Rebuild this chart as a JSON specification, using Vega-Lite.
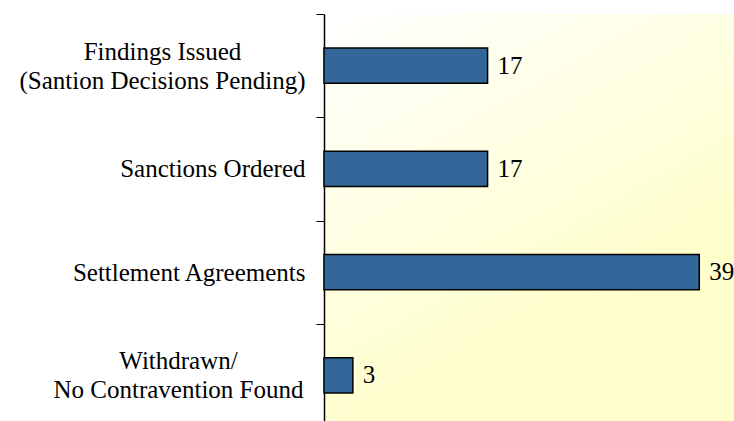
{
  "$schema": "https://vega.github.io/schema/vega-lite/v6.json",
  "autosize": "none",
  "width": 433,
  "height": 413,
  "padding": {"left": 324, "top": 14, "right": 0, "bottom": 0},
  "background": "white",
  "config": {
    "font": "Liberation Serif, serif",
    "view": {
      "stroke": null,
      "fill": {
        "gradient": "linear",
        "x1": 0, "y1": 0, "x2": 0.6, "y2": 1,
        "stops": [
          {"offset": 0, "color": "#FFFFFF"},
          {"offset": 0.75, "color": "#FFFFCF"},
          {"offset": 1, "color": "#FFFFCC"}
        ]
      }
    }
  },
  "data": {
    "values": [
      {"category": "Findings Issued|(Santion Decisions Pending)", "count": 17},
      {"category": "Sanctions Ordered", "count": 17},
      {"category": "Settlement Agreements", "count": 39},
      {"category": "Withdrawn/|No Contravention Found", "count": 3}
    ]
  },
  "encoding": {
    "y": {
      "field": "category",
      "type": "nominal",
      "sort": null,
      "scale": {"paddingInner": 0.66, "paddingOuter": 0.33},
      "axis": {
        "title": null,
        "labelExpr": "split(datum.label, '|')",
        "labelFont": "Liberation Serif, serif",
        "labelFontSize": 25,
        "labelColor": "#000000",
        "labelLineHeight": 29,
        "labelLimit": 400,
        "labelAlign": {"condition": {"test": "indexof(datum.value, '|') >= 0", "value": "center"}, "value": "right"},
        "labelPadding": {"condition": [
          {"test": "indexof(datum.value, 'Findings') >= 0", "value": 154},
          {"test": "indexof(datum.value, 'Withdrawn') >= 0", "value": 138}
        ], "value": 11},
        "labelOffset": {"condition": {"test": "indexof(datum.value, '|') >= 0", "value": 19.6}, "value": 34.1},
        "bandPosition": 0,
        "tickOffset": -34.07,
        "tickSize": 8,
        "tickColor": "#000000",
        "domainColor": "#000000",
        "domainWidth": 1.5,
        "tickWidth": 1
      }
    },
    "x": {
      "field": "count",
      "type": "quantitative",
      "scale": {"domain": [0, 45], "nice": false},
      "axis": null
    }
  },
  "layer": [
    {
      "mark": {"type": "bar", "color": "#336699", "stroke": "#000000", "strokeWidth": 1.5}
    },
    {
      "mark": {"type": "text", "align": "left", "baseline": "middle", "dx": 10, "fontSize": 25, "font": "Liberation Serif, serif", "color": "#000000"},
      "encoding": {"text": {"field": "count", "type": "quantitative"}}
    }
  ]
}
